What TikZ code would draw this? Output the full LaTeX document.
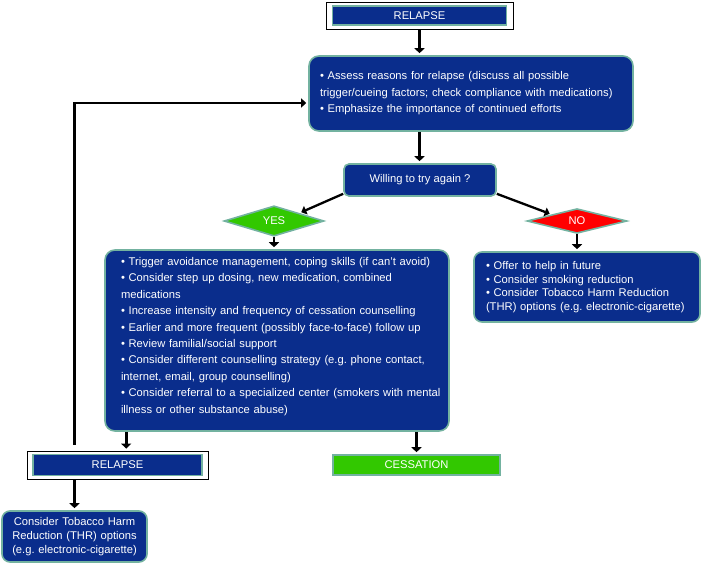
\documentclass[tikz,border=0pt]{standalone}
\usepackage{fontspec}
\setmainfont{Liberation Sans}
\usetikzlibrary{arrows.meta}
\usetikzlibrary{shapes}

\definecolor{boxblue}{RGB}{10,45,140}
\definecolor{boxrim}{RGB}{115,178,160}
\definecolor{yesgreen}{RGB}{50,200,0}
\definecolor{nored}{RGB}{255,0,0}
\frenchspacing

\begin{document}
\begin{tikzpicture}[x = 1pt, y = -1pt, font = \fontsize{11.2}{16.4}\selectfont]
	\tikzstyle{blueBox}=[draw = boxrim, line width = 1.6pt, fill = boxblue, text = white, rounded corners = 10pt, inner sep = 0pt]
	\tikzstyle{flatBox}=[draw = boxrim, line width = 1.6pt, text = white, inner sep = 0pt]
	\tikzstyle{frameBox}=[draw = black, line width = 0.8pt, fill = white, inner sep = 0pt]
	\tikzstyle{choiceStyle}=[shape = diamond, draw = boxrim, line width = 1.6pt, text = white, inner sep = 0pt]
	\tikzstyle{stepArrow}=[line width = 2.8pt, -{Triangle[width = 10pt, length = 5pt]}, shorten > = 2pt]
	\tikzstyle{sideArrow}=[line width = 2.3pt, -{Triangle[width = 9pt, length = 5pt]}, shorten > = 2pt]
	\useasboundingbox (0,0) rectangle (712,563);
	% top of the chart
	\node[frameBox, minimum width = 187pt, minimum height = 27pt] (relapseTop) at (419.5,15.5) {};
	\node[flatBox, fill = boxblue, minimum width = 174pt, minimum height = 19pt] (relapseTopIn) at (419.5,15.5) {RELAPSE};
	\node[blueBox, minimum width = 324pt, minimum height = 75pt, text width = 302pt, align = left] (assess) at (471,93.5) {• Assess reasons for relapse (discuss all possible\\trigger/cueing factors; check compliance with medications)\\• Emphasize the importance of continued efforts};
	\node[blueBox, rounded corners = 5pt, minimum width = 152pt, minimum height = 32pt] (willing) at (420,180) {Willing to try again ?};
	\node[choiceStyle, fill = yesgreen, minimum width = 100pt, minimum height = 22pt] (yes) at (274,221) {YES};
	\node[choiceStyle, fill = nored, minimum width = 100pt, minimum height = 22pt] (no) at (577,221) {NO};
	% the two branches
	\node[blueBox, minimum width = 344pt, minimum height = 181pt, text width = 312pt, align = left] (tryAgain) at (277,340.5) {• Trigger avoidance management, coping skills (if can’t avoid)\\• Consider step up dosing, new medication, combined\\medications\\• Increase intensity and frequency of cessation counselling\\• Earlier and more frequent (possibly face-to-face) follow up\\• Review familial/social support\\• Consider different counselling strategy (e.g. phone contact,\\internet, email, group counselling)\\\mbox{• Consider referral to a specialized center (smokers with mental}\\illness or other substance abuse)\rule[-10.5pt]{0pt}{1pt}};
	\node[blueBox, rounded corners = 8pt, minimum width = 226pt, minimum height = 70pt, text width = 202pt, align = left, font = \fontsize{11.2}{13.7}\selectfont] (giveUp) at (587,287) {• Offer to help in future\\• Consider smoking reduction\\• Consider Tobacco Harm Reduction\\(THR) options (e.g. electronic-cigarette)};
	% bottom of the chart
	\node[frameBox, minimum width = 181pt, minimum height = 28pt] (relapseLow) at (117.5,465) {};
	\node[flatBox, fill = boxblue, minimum width = 169pt, minimum height = 21pt] (relapseLowIn) at (117.5,465) {RELAPSE};
	\node[flatBox, fill = yesgreen, minimum width = 167pt, minimum height = 20pt] (cessation) at (416.5,465) {CESSATION};
	\node[blueBox, rounded corners = 8pt, minimum width = 145pt, minimum height = 51pt, text width = 142pt, align = center, font = \fontsize{11.2}{14}\selectfont] (harm) at (74.5,536.5) {Consider Tobacco Harm\\Reduction (THR) options\\(e.g. electronic-cigarette)};
	% connectors
	\draw[stepArrow] (relapseTop.south) -- (relapseTop.south |- assess.north);
	\draw[stepArrow] (assess.south -| relapseTop.south) -- (relapseTop.south |- willing.north);
	\draw[sideArrow] ([yshift = 3pt]willing.south west) -- (yes.north east);
	\draw[sideArrow] ([yshift = 3pt]willing.south east) -- (no.north west);
	\draw[stepArrow] (yes.south) -- (yes.south |- tryAgain.north);
	\draw[stepArrow] (no.south) -- (no.south |- giveUp.north);
	\draw[stepArrow] ([xshift = 22pt]tryAgain.south west) -- ([xshift = 22pt]tryAgain.south west |- relapseLow.north);
	\draw[stepArrow] (cessation.north |- tryAgain.south) -- (cessation.north);
	\draw[stepArrow] (harm.north |- relapseLow.south) -- (harm.north);
	\draw[sideArrow] ([yshift = 6pt]harm.north |- relapseLow.north) |- ([yshift = -9.5pt]assess.west);
\end{tikzpicture}
\end{document}
